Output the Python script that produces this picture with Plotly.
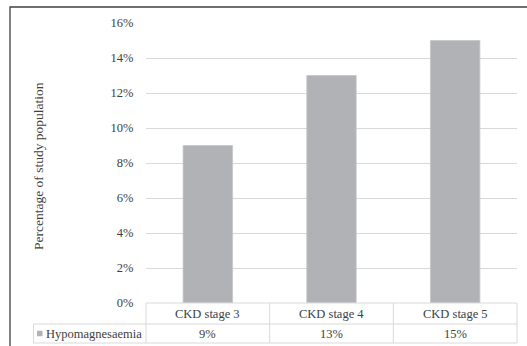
import plotly.graph_objects as go

# Data
categories = ["CKD stage 3", "CKD stage 4", "CKD stage 5"]
series_name = "Hypomagnesaemia"
hypomagnesaemia = [9, 13, 15]          # percent of study population
y_ticks = [0, 2, 4, 6, 8, 10, 12, 14, 16]
y_title = "Percentage of study population"

# Styling
FONT = "'Liberation Serif', 'Times New Roman', Times, serif"
TEXT = "#404040"
BAR = "#b1b2b6"
GRID = "#d9d9d9"
FRAME = "#404040"

W, H = 527, 346
ML, MR, MT, MB = 146, 10, 23, 43
PW, PH = W - ML - MR, H - MT - MB


def px_x(px):
    """pixel x -> paper x"""
    return (px - ML) / PW


def px_y(py):
    """pixel y -> paper y"""
    return (H - MB - py) / PH


fig = go.Figure()
fig.add_trace(go.Bar(
    x=categories,
    y=hypomagnesaemia,
    name=series_name,
    marker=dict(color=BAR, line=dict(color="#c6c7c9", width=0.8)),
    width=0.4,
    hoverinfo="x+y",
))

shapes = []
# outer chart frame (left and top edges)
shapes.append(dict(type="rect", xref="paper", yref="paper",
                   x0=px_x(10), x1=px_x(540), y0=px_y(360), y1=px_y(7),
                   line=dict(color=FRAME, width=1.3), fillcolor="rgba(0,0,0,0)",
                   layer="below"))

# data table grid beneath the plot
row1_top, row1_bot, row2_bot = px_y(303), px_y(324), px_y(343)
label_left = px_x(33.5)
n = len(categories)
shapes.append(dict(type="line", xref="x domain", yref="paper",
                   x0=0, x1=1, y0=row1_top, y1=row1_top, line=dict(color=GRID, width=1)))
shapes.append(dict(type="line", xref="x domain", yref="paper",
                   x0=label_left, x1=1, y0=row1_bot, y1=row1_bot, line=dict(color=GRID, width=1)))
shapes.append(dict(type="line", xref="x domain", yref="paper",
                   x0=label_left, x1=1, y0=row2_bot, y1=row2_bot, line=dict(color=GRID, width=1)))
shapes.append(dict(type="line", xref="x domain", yref="paper",
                   x0=label_left, x1=label_left, y0=row1_bot, y1=row2_bot, line=dict(color=GRID, width=1)))
for i in range(n + 1):
    xd = i / n
    shapes.append(dict(type="line", xref="x domain", yref="paper",
                       x0=xd, x1=xd, y0=row1_top, y1=row2_bot, line=dict(color=GRID, width=1)))

# legend key in the table row header
key_cy = (row1_bot + row2_bot) / 2
shapes.append(dict(type="rect", xref="paper", yref="paper",
                   x0=px_x(37), x1=px_x(42.5),
                   y0=key_cy - 2.75 / PH, y1=key_cy + 2.75 / PH,
                   line=dict(width=0), fillcolor=BAR))

annotations = []
row1_mid = (row1_top + row1_bot) / 2
for cat, val in zip(categories, hypomagnesaemia):
    annotations.append(dict(x=cat, xref="x", y=row1_mid, yref="paper", text=cat,
                            showarrow=False, xanchor="center", yanchor="middle",
                            font=dict(family=FONT, size=12.5, color=TEXT)))
    annotations.append(dict(x=cat, xref="x", y=key_cy, yref="paper", text=f"{val}%",
                            showarrow=False, xanchor="center", yanchor="middle",
                            font=dict(family=FONT, size=12.5, color=TEXT)))
annotations.append(dict(x=px_x(43.5), xref="paper", y=key_cy, yref="paper", text=series_name,
                        showarrow=False, xanchor="left", yanchor="middle",
                        font=dict(family=FONT, size=12.5, color=TEXT)))
# y-axis title
annotations.append(dict(x=px_x(38), xref="paper", y=px_y(166), yref="paper", text=y_title,
                        textangle=-90, showarrow=False, xanchor="center", yanchor="middle",
                        font=dict(family=FONT, size=13.5, color=TEXT)))

fig.update_layout(
    width=W, height=H,
    margin=dict(l=ML, r=MR, t=MT, b=MB, pad=0),
    paper_bgcolor="white", plot_bgcolor="white",
    showlegend=False,
    bargap=0.6,
    font=dict(family=FONT, size=12.5, color=TEXT),
    xaxis=dict(showticklabels=False, showgrid=False, zeroline=False, showline=False,
               ticks="", range=[-0.5, 2.5], fixedrange=True),
    yaxis=dict(range=[0, 16], tickvals=y_ticks, ticktext=[f"{t}%" for t in y_ticks],
               showgrid=True, gridcolor=GRID, gridwidth=1, zeroline=False, showline=False,
               ticks="outside", ticklen=9, tickcolor="rgba(0,0,0,0)",
               tickfont=dict(family=FONT, size=12.5, color=TEXT), fixedrange=True),
    shapes=shapes,
    annotations=annotations,
)

fig.write_html("out.html")
